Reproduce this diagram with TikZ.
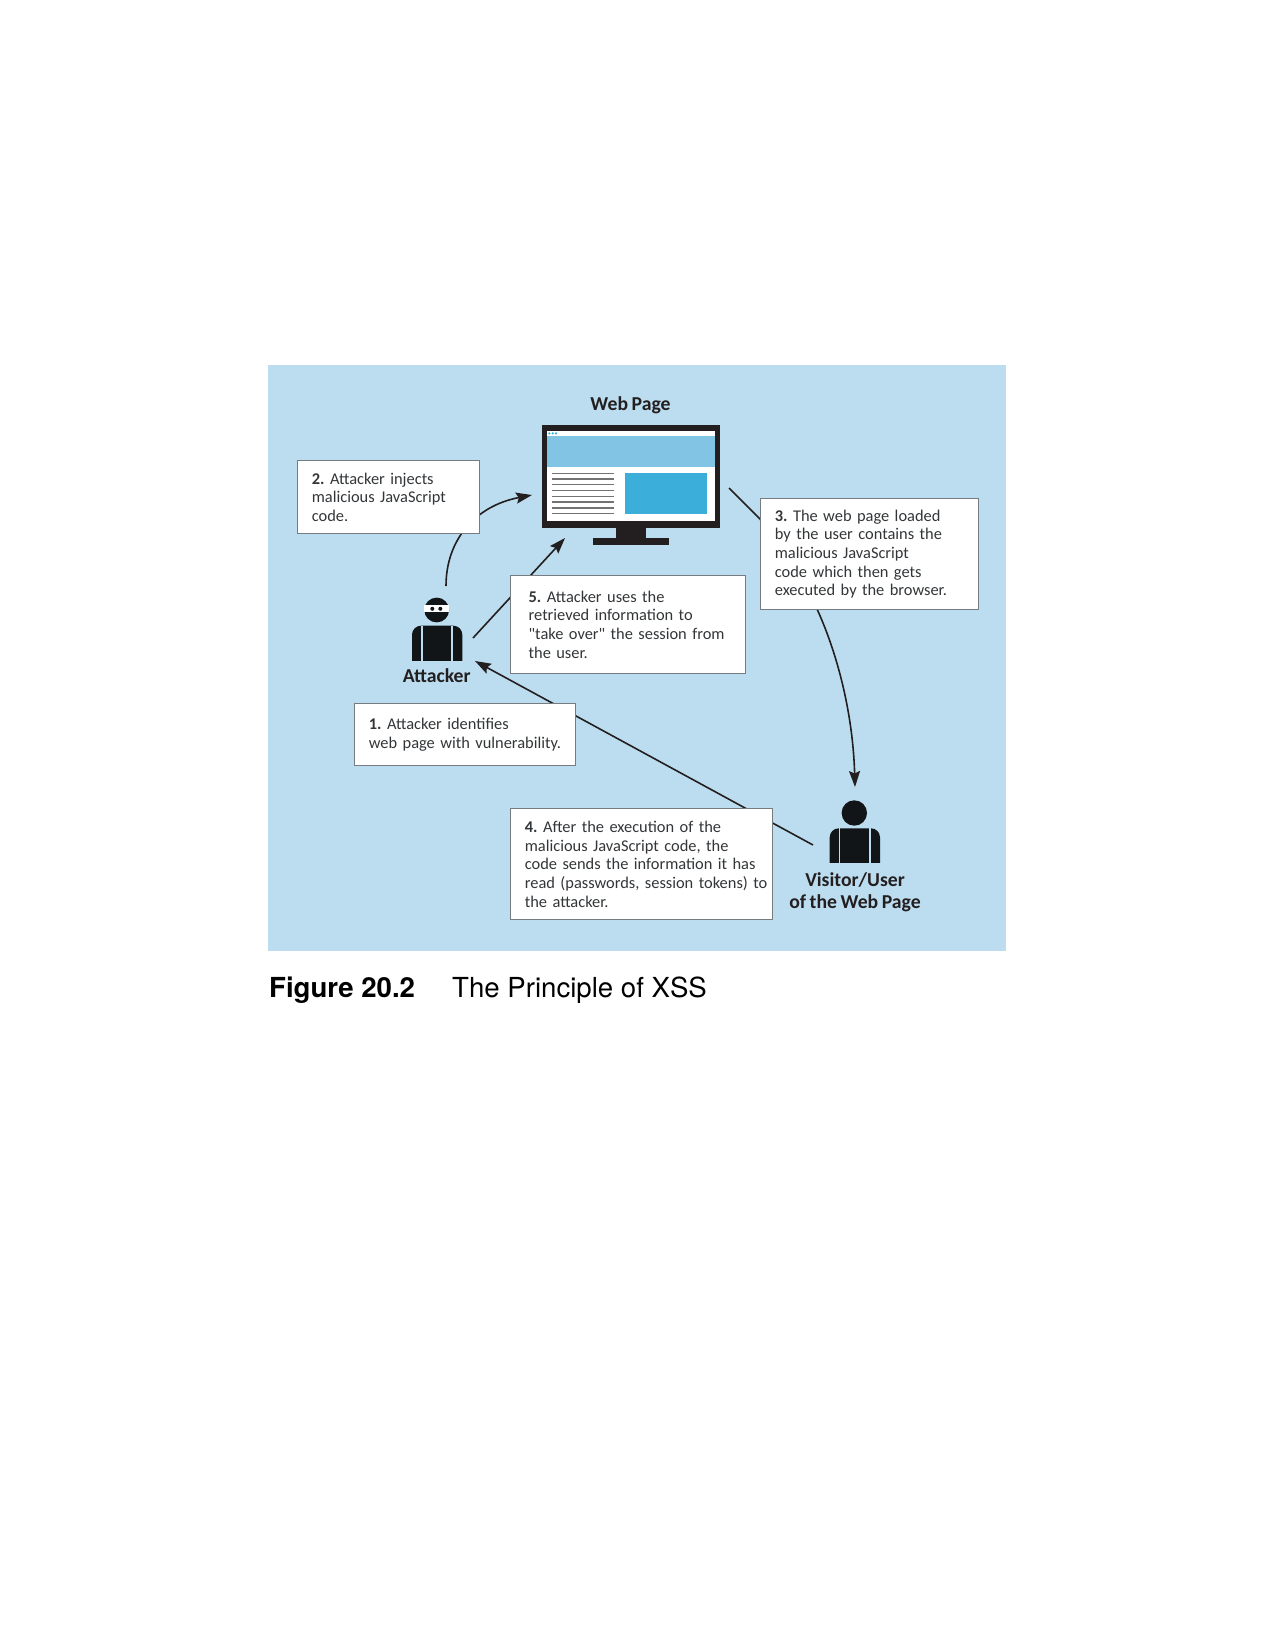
\documentclass[tikz,border=0pt]{standalone}
\usepackage{fontspec}
\setmainfont{Carlito}[WordSpace=0.8]
\newfontfamily\plainquote{Carlito}
\newfontfamily\capfont{TeX Gyre Heros}
\usetikzlibrary{arrows.meta}
\definecolor{panel}{HTML}{BCDDEF}
\definecolor{band}{HTML}{82C4E3}
\definecolor{bright}{HTML}{3BAFDA}
\definecolor{ink}{HTML}{231F20}
\definecolor{figure}{HTML}{111518}
\definecolor{txt}{HTML}{333638}
\definecolor{edge}{HTML}{777C80}
\tikzset{
  x=1pt,y=-1pt,
  box/.style={draw=edge,line width=1.3pt,fill=white,anchor=north west,inner xsep=14.2pt,inner ysep=0pt,align=left,text=txt,font=\fontsize{16.4}{18.7}\selectfont\frenchspacing},
  conn/.style={draw=ink,line width=1.6pt},
  arr/.style={conn,-{Stealth[length=16pt,width=11pt,inset=2.5pt]}},
  lab/.style={align=center,text=ink,font=\fontsize{19.7}{22}\selectfont\bfseries,inner sep=0pt},
  divider/.style={draw=panel,line width=1.2pt}
}
\begin{document}
\begin{tikzpicture}
\useasboundingbox[fill=white] (0,0) rectangle (1275,1649);
\fill[panel] (268,365) rectangle (1006,951);

% free ends
\coordinate (a2s) at (446,586);
\coordinate (a2e) at (532,495);
\coordinate (a5s) at (473,638);
\coordinate (a5e) at (565,538);
\coordinate (a3s) at (729,488);
\coordinate (a3e) at (855,787);
\coordinate (a4s) at (813,845);
\coordinate (a4e) at (475,661);

% connectors (boxes sit on top of them)
\draw[arr] (a2s) .. controls (446,540) and (475,506) .. (a2e);
\draw[arr] (a5s) -- (a5e);
\draw[arr] (a3s) -- (760,519) -- (817,609) .. controls (838,655) and (853,715) .. (a3e);
\draw[arr] (a4s) -- (a4e);

% text boxes
\node[box,minimum width=182pt,minimum height=73pt,text width=153.6pt] (b2) at (297,460)
  {\textbf{2.} Attacker injects\\malicious JavaScript\\code.};
\node[box,minimum width=218pt,minimum height=111pt,text width=189.6pt] (b3) at (760,498)
  {\textbf{3.} The web page loaded\\by the user contains the\\malicious JavaScript\\code which then gets\\executed by the browser.};
\node[box,inner xsep=18pt,minimum width=235pt,minimum height=98pt,text width=199pt] (b5) at (510,575)
  {\textbf{5.} Attacker uses the\\retrieved information to\\\mbox{{\plainquote"}take over{\plainquote"} the session from}\\the user.};
\node[box,minimum width=221pt,minimum height=62pt,text width=192.6pt] (b1) at (354,703)
  {\textbf{1.} Attacker identifies\\\mbox{web page with vulnerability.}};
\node[box,minimum width=262pt,minimum height=111pt,text width=233.6pt] (b4) at (510,808)
  {\textbf{4.} After the execution of the\\malicious JavaScript code, the\\\mbox{code sends the information it has}\\\mbox{read (passwords, session tokens) to}\\the attacker.};

% monitor
\node[lab] (webpage) at (630.5,405.5) {Web Page};
\fill[ink] (542,425) rectangle (720,528);
\fill[ink] (615.7,528) rectangle (646,538);
\fill[ink] (592.7,537.7) rectangle (668.7,545.3);
\fill[white] (546.7,431) rectangle (714.7,521.3);
\fill[band] (546.7,436) rectangle (714.7,466.7);
\foreach \dx in {549.3,552.7,556} \fill[bright] (\dx,433.4) circle (1.2pt);
\foreach \ly in {473.3,479,484.7,490.7,496.3,502,508,513.7}
  \draw[gray!90!black,line width=1.3pt] (551.7,\ly) -- (613.7,\ly);
\fill[bright] (625,473.3) rectangle (707,513.7);

% attacker figure
\fill[figure] (436.7,610) circle (12.4pt);
\fill[white] (424.3,605) rectangle (449,612.3);
\fill[figure] (432.3,608.8) circle (2pt) (440.3,608.8) circle (2pt);
\fill[figure,rounded corners=9pt] (412,680) -- (412,625.7) -- (462.3,625.7) -- (462.3,680) -- cycle;
\fill[panel] (405,660.7) rectangle (470,685);
\draw[divider] (422,625.7) -- (422,660.7);
\draw[divider] (452,625.7) -- (452,660.7);
\node[lab] (attacker) at (436.7,675.5) {Attacker};

% visitor figure
\fill[figure] (854.3,813) circle (12.7pt);
\fill[figure,rounded corners=9pt] (829.7,883) -- (829.7,828.3) -- (880,828.3) -- (880,883) -- cycle;
\fill[panel] (823,863.3) rectangle (887,888);
\draw[divider] (839.7,828.3) -- (839.7,863.3);
\draw[divider] (870,828.3) -- (870,863.3);
\node[lab,anchor=north] (visitor) at (855,872) {Visitor/User\\of the Web Page};

% caption
\node[anchor=base west,inner sep=0pt,font={\capfont\fontsize{27.6}{30}\selectfont\bfseries},text=black] (figno) at (269,997) {Figure 20.2};
\node[anchor=base west,inner sep=0pt,font={\capfont\fontsize{27.6}{30}\selectfont},text=black] (figcap) at (452,997) {The Principle of XSS};
\end{tikzpicture}
\end{document}
